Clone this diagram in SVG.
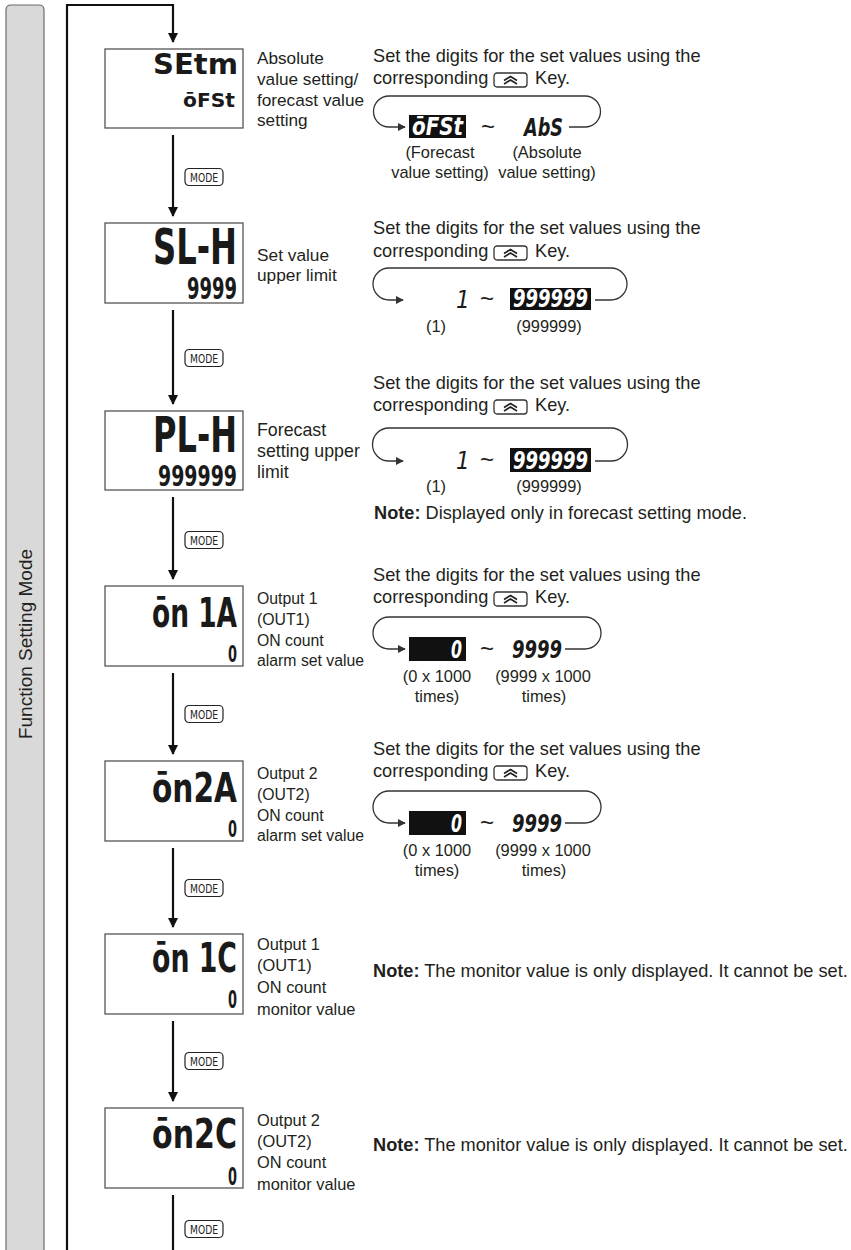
<svg xmlns="http://www.w3.org/2000/svg" xmlns:xlink="http://www.w3.org/1999/xlink" width="851" height="1250" viewBox="0 0 851 1250">
<style>
.t{font-family:"Liberation Sans",Arial,sans-serif;font-size:18.2px;fill:#231f20}
.l{font-family:"Liberation Sans",Arial,sans-serif;fill:#231f20}
.s{font-family:"Liberation Sans",Arial,sans-serif;font-size:16.4px;fill:#231f20}
.b{font-weight:bold}
.mid{text-anchor:middle}
.lcd{font-family:"DejaVu Sans Condensed","DejaVu Sans",sans-serif;font-weight:bold;fill:#1a1a1a}
.lcdw{font-family:"DejaVu Sans Condensed","DejaVu Sans",sans-serif;font-weight:bold;fill:#fff;font-style:italic}
.lcdi{font-family:"DejaVu Sans Condensed","DejaVu Sans",sans-serif;font-weight:bold;fill:#1a1a1a;font-style:italic}
.one{font-family:"DejaVu Sans Condensed","DejaVu Sans",sans-serif;fill:#1a1a1a;font-style:italic}
.box{fill:#fff;stroke:#555;stroke-width:1.3}
.conn{stroke:#111;stroke-width:2.2;fill:none}
.loop{stroke:#333;stroke-width:1.3;fill:none}
.tilde{font-family:"Liberation Sans",Arial,sans-serif;font-size:24px;fill:#231f20;text-anchor:middle}
</style>
<defs>
<marker id="ah" viewBox="0 0 10 10" refX="9" refY="5" markerWidth="10" markerHeight="10" markerUnits="userSpaceOnUse" orient="auto"><path d="M0,0 L10,5 L0,10 z" fill="#111"/></marker>
<marker id="sa" viewBox="0 0 10 10" refX="9" refY="5" markerWidth="8" markerHeight="8" markerUnits="userSpaceOnUse" orient="auto"><path d="M0,0 L10,5 L0,10 z" fill="#333"/></marker>
<symbol id="key" overflow="visible"><rect x="0" y="0" width="33" height="14" rx="3" fill="#fff" stroke="#333" stroke-width="1.3"/><path d="M10,7.5 L16.5,3.5 L23,7.5 M10,11 L16.5,7 L23,11" fill="none" stroke="#222" stroke-width="1.6"/></symbol>
<symbol id="mode" overflow="visible"><rect x="0" y="0" width="38" height="17" rx="4" fill="#fff" stroke="#222" stroke-width="1.2"/><text x="19" y="13" text-anchor="middle" font-family="'DejaVu Sans Condensed','Liberation Sans Narrow',sans-serif" font-size="12" fill="#222" textLength="28" lengthAdjust="spacingAndGlyphs">MODE</text></symbol>
</defs>

<g id="modebar">
<path d="M6,1251 V10 Q6,5 11,5 H39 Q44,5 44,10 V1251" fill="#d9d9d9" stroke="#6d6d6d" stroke-width="1.2"/>
<text class="l mid" x="32" y="644" transform="rotate(-90 32 644)" font-size="19">Function Setting Mode</text>
</g>

<g id="connectors">
<path class="conn" d="M67,1250 V5 H173 V42" stroke-width="2.5" marker-end="url(#ah)"/>
<line class="conn" x1="173" y1="135" x2="173" y2="216" marker-end="url(#ah)"/>
<line class="conn" x1="173" y1="310" x2="173" y2="404" marker-end="url(#ah)"/>
<line class="conn" x1="173" y1="497" x2="173" y2="579" marker-end="url(#ah)"/>
<line class="conn" x1="173" y1="673" x2="173" y2="754" marker-end="url(#ah)"/>
<line class="conn" x1="173" y1="848" x2="173" y2="927" marker-end="url(#ah)"/>
<line class="conn" x1="173" y1="1021" x2="173" y2="1101" marker-end="url(#ah)"/>
<line class="conn" x1="173" y1="1195" x2="173" y2="1250"/>
<use href="#mode" x="185" y="168.5"/>
<use href="#mode" x="185" y="349.5"/>
<use href="#mode" x="185" y="531.5"/>
<use href="#mode" x="185" y="705.5"/>
<use href="#mode" x="185" y="879.5"/>
<use href="#mode" x="185" y="1052.5"/>
<use href="#mode" x="185" y="1220.5"/>
</g>

<g id="n1">
<rect class="box" x="105" y="49" width="138" height="79"/>
<text class="lcd" x="153" y="74" font-size="29" textLength="85" lengthAdjust="spacingAndGlyphs">SEtm</text>
<text class="lcd" x="183" y="107" font-size="19" textLength="52" lengthAdjust="spacingAndGlyphs">ōFSt</text>
<g class="l" font-size="17.2">
<text x="257" y="64">Absolute</text>
<text x="257" y="85">value setting/</text>
<text x="257" y="106">forecast value</text>
<text x="257" y="126">setting</text>
</g>
<text class="t" x="373" y="62">Set the digits for the set values using the</text>
<text class="t" x="373" y="84">corresponding</text>
<use href="#key" x="494" y="73"/>
<text class="t" x="535" y="84">Key.</text>
<path class="loop" d="M569,127 H585 A15.5,15.5 0 0 0 585,96 H389 A15.5,15.5 0 0 0 389,127 H405" marker-end="url(#sa)"/>
<rect x="409" y="115" width="57" height="23" fill="#111"/>
<text class="lcdw" x="412" y="135" font-size="24" textLength="51" lengthAdjust="spacingAndGlyphs">ōFSt</text>
<text class="tilde" x="488" y="135">~</text>
<text class="lcdi" x="524" y="136" font-size="24" textLength="39" lengthAdjust="spacingAndGlyphs">AbS</text>
<text class="s mid" x="440" y="158">(Forecast</text>
<text class="s mid" x="440" y="178">value setting)</text>
<text class="s mid" x="547" y="158">(Absolute</text>
<text class="s mid" x="547" y="178">value setting)</text>
</g>

<g id="n2">
<rect class="box" x="105" y="223" width="138" height="80"/>
<text class="lcd" x="153" y="264" font-size="49" textLength="84" lengthAdjust="spacingAndGlyphs">SL-H</text>
<text class="lcd" x="187" y="299" font-size="30" textLength="50" lengthAdjust="spacingAndGlyphs">9999</text>
<g class="l" font-size="17.3">
<text x="257" y="261">Set value</text>
<text x="257" y="281">upper limit</text>
</g>
<text class="t" x="373" y="234">Set the digits for the set values using the</text>
<text class="t" x="373" y="257">corresponding</text>
<use href="#key" x="494" y="246"/>
<text class="t" x="535" y="257">Key.</text>
<path class="loop" d="M595,300 H611 A16,16 0 0 0 611,268 H389 A16,16 0 0 0 389,300 H403" marker-end="url(#sa)"/>
<text class="one" x="456" y="308" font-size="24">1</text>
<text class="tilde" x="487" y="307">~</text>
<rect x="510" y="288" width="81" height="22" fill="#111"/>
<text class="lcdw" x="513" y="307" font-size="24" textLength="75" lengthAdjust="spacingAndGlyphs">999999</text>
<text class="s mid" x="436" y="332">(1)</text>
<text class="s mid" x="549" y="332">(999999)</text>
</g>

<g id="n3">
<rect class="box" x="105" y="411" width="138" height="79"/>
<text class="lcd" x="153" y="452" font-size="50" textLength="84" lengthAdjust="spacingAndGlyphs">PL-H</text>
<text class="lcd" x="158" y="486" font-size="29" textLength="79" lengthAdjust="spacingAndGlyphs">999999</text>
<g class="l" font-size="17.8">
<text x="257" y="436">Forecast</text>
<text x="257" y="457">setting upper</text>
<text x="257" y="478">limit</text>
</g>
<text class="t" x="373" y="389">Set the digits for the set values using the</text>
<text class="t" x="373" y="411">corresponding</text>
<use href="#key" x="494" y="400"/>
<text class="t" x="535" y="411">Key.</text>
<path class="loop" d="M595,461 H611 A16.5,16.5 0 0 0 611,428 H389 A16.5,16.5 0 0 0 389,461 H403" marker-end="url(#sa)"/>
<text class="one" x="456" y="469" font-size="24">1</text>
<text class="tilde" x="487" y="468">~</text>
<rect x="510" y="448" width="81" height="24" fill="#111"/>
<text class="lcdw" x="513" y="469" font-size="25" textLength="75" lengthAdjust="spacingAndGlyphs">999999</text>
<text class="s mid" x="436" y="492">(1)</text>
<text class="s mid" x="549" y="492">(999999)</text>
<text class="t" x="374" y="519"><tspan class="b">Note:</tspan> Displayed only in forecast setting mode.</text>
</g>

<g id="n4">
<rect class="box" x="105" y="586" width="138" height="80"/>
<text class="lcd" x="152" y="627" font-size="41" textLength="85" lengthAdjust="spacingAndGlyphs">ōn 1A</text>
<text class="lcd" x="228" y="662" font-size="23" textLength="9" lengthAdjust="spacingAndGlyphs">0</text>
<g class="l" font-size="15.8">
<text x="257" y="604">Output 1</text>
<text x="257" y="625">(OUT1)</text>
<text x="257" y="646">ON count</text>
<text x="257" y="666">alarm set value</text>
</g>
<text class="t" x="373" y="581">Set the digits for the set values using the</text>
<text class="t" x="373" y="603">corresponding</text>
<use href="#key" x="494" y="592"/>
<text class="t" x="535" y="603">Key.</text>
<path class="loop" d="M565,649 H585 A16,16 0 0 0 585,617 H389 A16,16 0 0 0 389,649 H405" marker-end="url(#sa)"/>
<rect x="409" y="637" width="57" height="24" fill="#111"/>
<text class="lcdw" x="451" y="658" font-size="24" textLength="11" lengthAdjust="spacingAndGlyphs">0</text>
<text class="tilde" x="487" y="657">~</text>
<text class="lcdi" x="512" y="658" font-size="24" textLength="50" lengthAdjust="spacingAndGlyphs">9999</text>
<text class="s mid" x="437" y="682">(0 x 1000</text>
<text class="s mid" x="437" y="702">times)</text>
<text class="s mid" x="543" y="682">(9999 x 1000</text>
<text class="s mid" x="544" y="702">times)</text>
</g>

<g id="n5">
<rect class="box" x="105" y="761" width="138" height="80"/>
<text class="lcd" x="152" y="802" font-size="41" textLength="85" lengthAdjust="spacingAndGlyphs">ōn2A</text>
<text class="lcd" x="228" y="837" font-size="23" textLength="9" lengthAdjust="spacingAndGlyphs">0</text>
<g class="l" font-size="15.8">
<text x="257" y="779">Output 2</text>
<text x="257" y="800">(OUT2)</text>
<text x="257" y="821">ON count</text>
<text x="257" y="841">alarm set value</text>
</g>
<text class="t" x="373" y="755">Set the digits for the set values using the</text>
<text class="t" x="373" y="777">corresponding</text>
<use href="#key" x="494" y="766"/>
<text class="t" x="535" y="777">Key.</text>
<path class="loop" d="M565,823 H585 A16,16 0 0 0 585,791 H389 A16,16 0 0 0 389,823 H405" marker-end="url(#sa)"/>
<rect x="409" y="811" width="57" height="24" fill="#111"/>
<text class="lcdw" x="451" y="832" font-size="24" textLength="11" lengthAdjust="spacingAndGlyphs">0</text>
<text class="tilde" x="487" y="831">~</text>
<text class="lcdi" x="512" y="832" font-size="24" textLength="50" lengthAdjust="spacingAndGlyphs">9999</text>
<text class="s mid" x="437" y="856">(0 x 1000</text>
<text class="s mid" x="437" y="876">times)</text>
<text class="s mid" x="543" y="856">(9999 x 1000</text>
<text class="s mid" x="544" y="876">times)</text>
</g>

<g id="n6">
<rect class="box" x="105" y="934" width="138" height="80"/>
<text class="lcd" x="152" y="972" font-size="41" textLength="85" lengthAdjust="spacingAndGlyphs">ōn 1C</text>
<text class="lcd" x="228" y="1008" font-size="25" textLength="9" lengthAdjust="spacingAndGlyphs">0</text>
<g class="l" font-size="16.4">
<text x="257" y="950">Output 1</text>
<text x="257" y="971">(OUT1)</text>
<text x="257" y="993">ON count</text>
<text x="257" y="1015">monitor value</text>
</g>
<text class="t" x="373" y="977"><tspan class="b">Note:</tspan> The monitor value is only displayed. It cannot be set.</text>
</g>

<g id="n7">
<rect class="box" x="105" y="1108" width="138" height="80"/>
<text class="lcd" x="152" y="1148" font-size="41" textLength="85" lengthAdjust="spacingAndGlyphs">ōn2C</text>
<text class="lcd" x="228" y="1185" font-size="25" textLength="9" lengthAdjust="spacingAndGlyphs">0</text>
<g class="l" font-size="16.4">
<text x="257" y="1126">Output 2</text>
<text x="257" y="1147">(OUT2)</text>
<text x="257" y="1168">ON count</text>
<text x="257" y="1190">monitor value</text>
</g>
<text class="t" x="373" y="1151"><tspan class="b">Note:</tspan> The monitor value is only displayed. It cannot be set.</text>
</g>
</svg>
